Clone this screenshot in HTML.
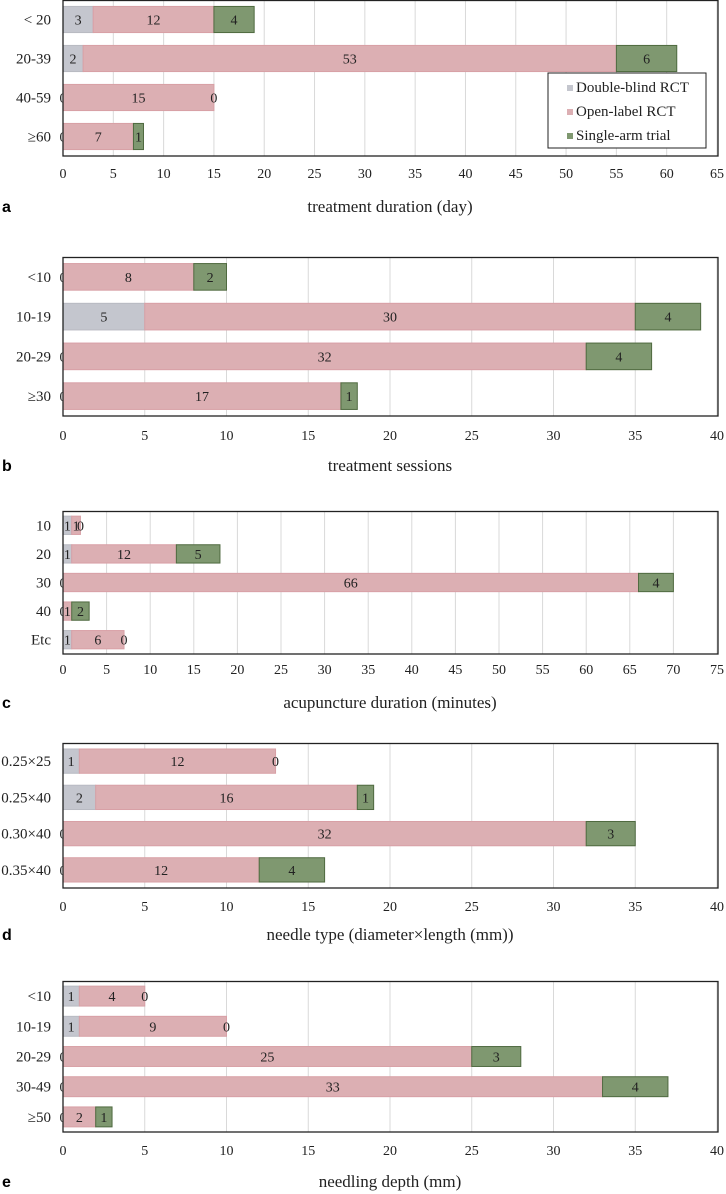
<!DOCTYPE html>
<html><head><meta charset="utf-8"><style>
html,body{margin:0;padding:0;background:#fff;}
svg{display:block;}
text{font-family:"Liberation Serif",serif;fill:#222;}
.lt{font-family:"Liberation Sans",sans-serif;font-weight:bold;fill:#000;}
</style></head><body>
<svg id="chart" width="726" height="1194" viewBox="0 0 726 1194" xmlns="http://www.w3.org/2000/svg"></svg>
<script>
// panel a
const catsA = ["< 20","20-39","40-59","\u226560"];
const dbA = [3,2,0,0];
const olA = [12,53,15,7];
const saA = [4,6,0,1];
const ticksA = [0,5,10,15,20,25,30,35,40,45,50,55,60,65];
// panel b
const catsB = ["<10","10-19","20-29","\u226530"];
const dbB = [0,5,0,0];
const olB = [8,30,32,17];
const saB = [2,4,4,1];
const ticksB = [0,5,10,15,20,25,30,35,40];
// panel c
const catsC = ["10","20","30","40","Etc"];
const dbC = [1,1,0,0,1];
const olC = [1,12,66,1,6];
const saC = [0,5,4,2,0];
const ticksC = [0,5,10,15,20,25,30,35,40,45,50,55,60,65,70,75];
// panel d
const catsD = ["0.25\u00d725","0.25\u00d740","0.30\u00d740","0.35\u00d740"];
const dbD = [1,2,0,0];
const olD = [12,16,32,12];
const saD = [0,1,3,4];
const ticksD = [0,5,10,15,20,25,30,35,40];
// panel e
const catsE = ["<10","10-19","20-29","30-49","\u226550"];
const dbE = [1,1,0,0,0];
const olE = [4,9,25,33,2];
const saE = [0,0,3,4,1];
const ticksE = [0,5,10,15,20,25,30,35,40];

const NS="http://www.w3.org/2000/svg";
const svg=document.getElementById('chart');
function mk(tag,attrs,parent){const e=document.createElementNS(NS,tag);for(const k in attrs)e.setAttribute(k,attrs[k]);(parent||svg).appendChild(e);return e;}

const panels=[
 {id:'a',cats:catsA,db:dbA,ol:olA,sa:saA,ticks:ticksA,top:0,bottom:156,barFrac:0.67,tickY:178,titleY:212,title:"treatment duration (day)",legend:true},
 {id:'b',cats:catsB,db:dbB,ol:olB,sa:saB,ticks:ticksB,top:257,bottom:416,barFrac:0.67,tickY:440,titleY:471,title:"treatment sessions"},
 {id:'c',cats:catsC,db:dbC,ol:olC,sa:saC,ticks:ticksC,top:511,bottom:654,barFrac:0.64,tickY:674,titleY:708,title:"acupuncture duration (minutes)"},
 {id:'d',cats:catsD,db:dbD,ol:olD,sa:saD,ticks:ticksD,top:743,bottom:888,barFrac:0.67,tickY:911,titleY:940,title:"needle type (diameter\u00d7length  (mm))"},
 {id:'e',cats:catsE,db:dbE,ol:olE,sa:saE,ticks:ticksE,top:981,bottom:1132,barFrac:0.66,tickY:1155,titleY:1187,title:"needling depth (mm)"}
];
const X0=63, X1=717;
const fills=['#c4c6ce','#dcafb3','#7f9870'];
const strokes=['#b8bac2','#d8a0a6','#4f6a40'];
const names=['double-blind','open-label','single-arm'];

panels.forEach(p=>{
  const g=mk('g',{});
  
  
  const max=p.ticks[p.ticks.length-1];
  const xs=v=>X0+(X1-X0)*v/max;
  const n=p.cats.length, band=(p.bottom-p.top)/n;
  const yc=i=>p.top+band*(i+0.5);
  // gridlines
  p.ticks.forEach(t=>{ if(t===0)return;
    const l=mk('line',{x1:xs(t),x2:xs(t),y1:p.top,y2:p.bottom,stroke:'#d9d9d9','stroke-width':1},g);
    
    
  });
  const bh=band*p.barFrac;
  p.cats.forEach((c,i)=>{
    const vals=[p.db[i],p.ol[i],p.sa[i]];
    let acc=0;
    vals.forEach((v,k)=>{
      const x=xs(acc), w=xs(acc+v)-xs(acc);
      if(v>0){
        const r=mk('rect',{x:x,y:yc(i)-bh/2,width:w,height:bh,fill:fills[k],stroke:strokes[k],'stroke-width':1},g);
        
        
      }
      const t=mk('text',{x:x+w/2,y:yc(i)+5,'text-anchor':'middle','font-size':14},g);
      t.textContent=v;
      
      
      acc+=v;
    });
    const cl=mk('text',{x:51,y:yc(i)+5,'text-anchor':'end','font-size':15},g);
    cl.textContent=c;
    
    
  });
  const fr=mk('rect',{x:X0,y:p.top+0.5,width:718-X0,height:p.bottom-p.top-0.5,fill:'none',stroke:'#222','stroke-width':1.3},g);
  
  
  p.ticks.forEach(t=>{
    const tl=mk('text',{x:xs(t),y:p.tickY,'text-anchor':'middle','font-size':14},g);
    tl.textContent=t;
    
    
  });
  const tt=mk('text',{x:390,y:p.titleY,'text-anchor':'middle','font-size':17},g);
  tt.textContent=p.title;
  
  
  const pl=mk('text',{x:2,y:p.titleY,'font-size':16,class:'lt'},g);
  pl.textContent=p.id;
  
  
  if(p.legend){
    const lg=mk('g',{},g);
    
    
    mk('rect',{x:548,y:73,width:158,height:75,fill:'#fff',stroke:'#222','stroke-width':1},lg);
    const lbl=['Double-blind RCT','Open-label RCT','Single-arm trial'];
    lbl.forEach((s,k)=>{
      const e=mk('g',{},lg);
      
      
      mk('rect',{x:567,y:85+k*24,width:6,height:6,fill:fills[k]},e);
      const t=mk('text',{x:576,y:92+k*24,'font-size':15},e);
      t.textContent=s;
    });
  }
});
</script>
</body></html>
